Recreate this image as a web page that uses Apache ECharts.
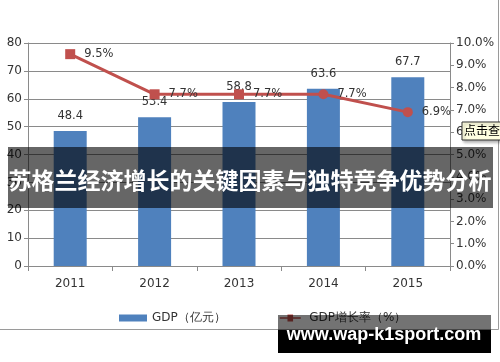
<!DOCTYPE html>
<html>
<head>
<meta charset="utf-8">
<script src="https://cdn.jsdelivr.net/npm/echarts@6/dist/echarts.min.js"></script>
<style>
html,body{margin:0;padding:0;background:#fff;}
#c{width:500px;height:362px;}
</style>
</head>
<body>
<div id="c"></div>
<script>
var categories = ['2011', '2012', '2013', '2014', '2015'];
var gdpValues = [48.4, 53.4, 58.8, 63.6, 67.7];
var growthValues = [9.5, 7.7, 7.7, 7.7, 6.9];
var seriesNames = ['GDP（亿元）', 'GDP增长率（%）'];
var titleText = '苏格兰经济增长的关键因素与独特竞争优势分析';
var watermarkText = 'www.wap-k1sport.com';
var tooltipText = '点击查';

var chart = echarts.init(document.getElementById('c'), null, {renderer: 'canvas'});
var font = 'DejaVu Sans';
var gridColor = '#8a8a8a';

var option = {
  animation: false,
  backgroundColor: '#fff',
  grid: {left: 28, right: 50, top: 43, bottom: 96, containLabel: false},
  legend: {
    left: 114, top: 307,
    itemGap: 54, itemWidth: 28, itemHeight: 7,
    textStyle: {fontFamily: font, fontSize: 12, color: '#333'},
    data: [
      {name: seriesNames[0], icon: 'rect'},
      {name: seriesNames[1], icon: 'path://M0,4h11v-4h8v4h11v2h-11v4h-8v-4h-11z', itemStyle: {color: '#C0504D'}}
    ]
  },
  xAxis: {
    type: 'category',
    data: categories,
    axisLine: {lineStyle: {color: gridColor, width: 1}},
    axisTick: {show: true, length: 5, alignWithLabel: false, lineStyle: {color: gridColor}},
    axisLabel: {fontFamily: font, fontSize: 12, color: '#333', margin: 12}
  },
  yAxis: [
    {
      type: 'value', min: 0, max: 80, interval: 10,
      axisLine: {show: true, lineStyle: {color: gridColor}},
      axisTick: {show: true, length: 4, lineStyle: {color: gridColor}},
      splitLine: {lineStyle: {color: gridColor, width: 1}},
      axisLabel: {fontFamily: font, fontSize: 12, color: '#333', margin: 6}
    },
    {
      type: 'value', min: 0, max: 10, interval: 1,
      axisLine: {show: true, lineStyle: {color: gridColor}},
      axisTick: {show: true, length: 4, lineStyle: {color: gridColor}},
      splitLine: {show: false},
      axisLabel: {fontFamily: font, fontSize: 12, color: '#333', margin: 6,
        formatter: function (v) { return v.toFixed(1) + '%'; }}
    }
  ],
  series: [
    {
      name: seriesNames[0],
      type: 'bar',
      data: gdpValues,
      barWidth: 33,
      itemStyle: {color: '#4F81BD'},
      label: {show: true, position: 'top', distance: 9, fontFamily: font, fontSize: 11.5, color: '#333'}
    },
    {
      name: seriesNames[1],
      type: 'line',
      yAxisIndex: 1,
      data: growthValues,
      symbol: function (v, p) { return p.dataIndex < 3 ? 'rect' : 'circle'; },
      symbolSize: 10,
      lineStyle: {color: '#C0504D', width: 3},
      itemStyle: {color: '#C0504D'},
      label: {show: true, position: 'right', distance: 9, fontFamily: font, fontSize: 11.5, color: '#333',
        formatter: function (p) { return p.value.toFixed(1) + '%'; }},
      z: 5
    }
  ],
  graphic: [
    {type: 'line', z: 50, shape: {x1: 0, y1: 329.5, x2: 498.5, y2: 329.5}, style: {stroke: '#9a9a9a', lineWidth: 1}},
    {type: 'line', z: 50, shape: {x1: 498.5, y1: 0, x2: 498.5, y2: 329.5}, style: {stroke: '#9a9a9a', lineWidth: 1}},
    {type: 'rect', z: 100, shape: {x: 462, y: 122, width: 40, height: 18},
      style: {fill: '#FFFFE1', stroke: '#333', lineWidth: 1, shadowColor: 'rgba(0,0,0,0.3)', shadowBlur: 3, shadowOffsetX: 2, shadowOffsetY: 2}},
    {type: 'text', z: 101, left: 464, top: 124,
      style: {text: tooltipText, fontFamily: 'Noto Sans CJK SC', fontSize: 12, fill: '#000'}},
    {type: 'rect', z: 100, shape: {x: 8, y: 147, width: 485, height: 61}, style: {fill: 'rgba(0,0,0,0.6)'}},
    {type: 'text', z: 101, x: 250, y: 180,
      style: {text: titleText, fontFamily: 'Noto Sans CJK SC', fontWeight: 'bold', fontSize: 23, fill: '#fff',
        align: 'center', verticalAlign: 'middle'}},
    {type: 'rect', z: 100, shape: {x: 278, y: 315, width: 213, height: 38}, style: {fill: 'rgba(0,0,0,0.55)'}},
    {type: 'rect', z: 100, shape: {x: 278, y: 330, width: 213, height: 23}, style: {fill: '#000'}},
    {type: 'text', z: 101, x: 384, y: 335,
      style: {text: watermarkText, fontFamily: 'Liberation Sans', fontWeight: 'bold', fontSize: 18, fill: '#fff',
        align: 'center', verticalAlign: 'middle'}}
  ]
};
chart.setOption(option);
</script>
</body>
</html>
